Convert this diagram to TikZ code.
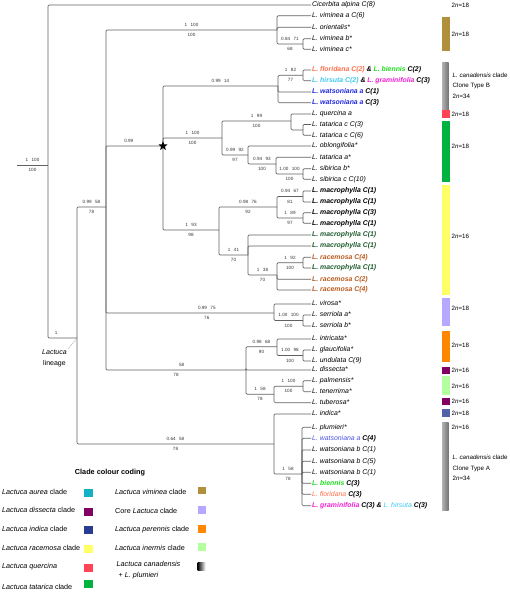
\documentclass[tikz,border=0pt]{standalone}
\usepackage{fontspec}
\setmainfont{Liberation Sans}
\usetikzlibrary{shapes.geometric}
\definecolor{vimcol}{RGB}{176,144,58}
\definecolor{quecol}{RGB}{255,68,85}
\definecolor{tatcol}{RGB}{0,178,64}
\definecolor{racecol}{RGB}{255,255,102}
\definecolor{corecol}{RGB}{180,168,255}
\definecolor{perecol}{RGB}{255,136,0}
\definecolor{disscol}{RGB}{128,0,100}
\definecolor{inercol}{RGB}{180,255,160}
\definecolor{indicol}{RGB}{40,60,145}
\definecolor{aurecol}{RGB}{20,176,196}
\definecolor{flocol}{RGB}{255,110,75}
\definecolor{biecol}{RGB}{30,220,30}
\definecolor{hircol}{RGB}{60,200,240}
\definecolor{gracol}{RGB}{240,30,210}
\definecolor{watcol}{RGB}{30,40,220}
\definecolor{macgreen}{RGB}{30,90,45}
\definecolor{raccol}{RGB}{185,90,30}
\def\fs{\fontsize{4.6}{5}\selectfont}
\def\pp#1#2{#1\hspace{3.5pt}#2}
\def\nn{2\textit{n}}

\begin{document}
\begin{tikzpicture}[x=1pt,y=-1pt,
	br/.style={draw=black!62, line width=0.7pt, rounded corners=1.2pt},
	lf/.style={anchor=west, inner sep=1pt, font=\fontsize{6.9}{8}\selectfont\itshape, text height=5pt, text depth=1.5pt},
	pa/.style={pos=.75, above=2.3pt, inner sep=1pt, font=\fs, text=black!80},
	pb/.style={pos=.75, below=2pt, inner sep=1pt, font=\fs, text=black!80},
	pl/.style={anchor=west, inner sep=0pt, font=\fontsize{6.2}{10.7}\selectfont, align=left},
	lg/.style={anchor=west, inner sep=0pt, font=\fontsize{7.2}{11}\selectfont, align=left}]
	\useasboundingbox (0,0) rectangle (510,592);
	
	% internal nodes
	\coordinate (root0) at (17,165);
	\coordinate (root) at (48,165);
	\coordinate (lact) at (77,338);
	\coordinate (big) at (106,207);
	\coordinate (vim) at (277,30);
	\coordinate (vimbc) at (303,44);
	\coordinate (star) at (163,146);
	\coordinate (canB) at (278,86);
	\coordinate (canB1) at (303,75.3);
	\coordinate (qt) at (222,138);
	\coordinate (que) at (291,121);
	\coordinate (tatc) at (303,129.9);
	\coordinate (tat) at (248,155);
	\coordinate (tatsib) at (276,164);
	\coordinate (sib) at (303,174);
	\coordinate (mac) at (219,230);
	\coordinate (macA) at (277,207);
	\coordinate (macA1) at (303,196.5);
	\coordinate (macA2) at (303,218);
	\coordinate (rac) at (248,255);
	\coordinate (racB) at (277,275);
	\coordinate (racC) at (303,262.7);
	\coordinate (corel) at (274,313);
	\coordinate (ser) at (303,320.5);
	\coordinate (per) at (246,370);
	\coordinate (int) at (277,346.7);
	\coordinate (glau) at (303,355.5);
	\coordinate (ine) at (274,394.3);
	\coordinate (pal) at (303,386.2);
	\coordinate (can) at (274,444);
	\coordinate (canA) at (302,474);
	
	% leaves
	\node[lf] (Lcic) at (311,5) {Cicerbita alpina C(8)};
	\node[lf] (Lvima) at (311,15.7) {L. viminea a C(6)};
	\node[lf] (Lori) at (311,27.3) {L. orientalis*};
	\node[lf] (Lvimb) at (311,38.7) {L. viminea b*};
	\node[lf] (Lvimc) at (311,49.3) {L. viminea c*};
	\node[lf] (Lflo2) at (311,70) {\bfseries\textcolor{flocol}{L. floridana C(2)} \& \textcolor{biecol}{L. biennis} C(2)};
	\node[lf] (Lhir2) at (311,80.7) {\bfseries\textcolor{hircol}{L. hirsuta C(2)} \& \textcolor{gracol}{L. graminifolia} C(3)};
	\node[lf] (Lwat1) at (311,92) {\bfseries\textcolor{watcol}{L. watsoniana a} C(1)};
	\node[lf] (Lwat3) at (311,102.7) {\bfseries\textcolor{watcol}{L. watsoniana a} C(3)};
	\node[lf] (Lque) at (311,114) {L. quercina a};
	\node[lf] (Ltatc3) at (311,124.5) {L. tatarica c C(3)};
	\node[lf] (Ltatc6) at (311,135.3) {L. tatarica c C(6)};
	\node[lf] (Lobl) at (311,146) {L. oblongifolia*};
	\node[lf] (Ltata) at (311,157.3) {L. tatarica a*};
	\node[lf] (Lsibb) at (311,168.7) {L. sibirica b*};
	\node[lf] (Lsibc) at (311,179.3) {L. sibirica c C(10)};
	\node[lf] (Lmac1) at (311,191) {\bfseries L. macrophylla C(1)};
	\node[lf] (Lmac2) at (311,202) {\bfseries L. macrophylla C(1)};
	\node[lf] (Lmac3) at (311,212.7) {\bfseries L. macrophylla C(3)};
	\node[lf] (Lmac4) at (311,223.3) {\bfseries L. macrophylla C(1)};
	\node[lf, text=macgreen] (Lmac5) at (311,235) {\bfseries L. macrophylla C(1)};
	\node[lf, text=macgreen] (Lmac6) at (311,246) {\bfseries L. macrophylla C(1)};
	\node[lf, text=raccol] (Lrac1) at (311,257.3) {\bfseries L. racemosa C(4)};
	\node[lf, text=macgreen] (Lmac7) at (311,268) {\bfseries L. macrophylla C(1)};
	\node[lf, text=raccol] (Lrac2) at (311,279.3) {\bfseries L. racemosa C(2)};
	\node[lf, text=raccol] (Lrac3) at (311,290) {\bfseries L. racemosa C(4)};
	\node[lf] (Lvir) at (311,304) {L. virosa*};
	\node[lf] (Lser1) at (311,315) {L. serriola a*};
	\node[lf] (Lser2) at (311,326) {L. serriola b*};
	\node[lf] (Lint) at (311,339) {L. intricata*};
	\node[lf] (Lgla) at (311,350) {L. glaucifolia*};
	\node[lf] (Lund) at (311,361) {L. undulata C(9)};
	\node[lf] (Ldis) at (311,370) {L. dissecta*};
	\node[lf] (Lpal) at (311,380.7) {L. palmensis*};
	\node[lf] (Lten) at (311,391.7) {L. tenerrima*};
	\node[lf] (Ltub) at (311,402.7) {L. tuberosa*};
	\node[lf] (Lind) at (311,414) {L. indica*};
	\node[lf] (Lplu) at (311,427.3) {L. plumieri*};
	\node[lf] (Lwat4) at (311,438.3) {\textcolor{watcol!80}{L. watsoniana a} \bfseries C(4)};
	\node[lf] (Lwatb1) at (311,450) {L. watsoniana b C(1)};
	\node[lf] (Lwatb5) at (311,461.3) {L. watsoniana b C(5)};
	\node[lf] (Lwatb1x) at (311,472.3) {L. watsoniana b C(1)};
	\node[lf] (Lbie3) at (311,483.3) {\bfseries\textcolor{biecol}{L. biennis} C(3)};
	\node[lf] (Lflo3) at (311,494.3) {\textcolor{flocol}{L. floridana} \bfseries C(3)};
	\node[lf] (Lgra3) at (311,505.7) {\bfseries\textcolor{gracol}{L. graminifolia} C(3) \& \textcolor{hircol}{\mdseries L. hirsuta} C(3)};
	
	% branches
	\draw[br] (root0) -- node[pa,pos=.5] {\pp{1}{100}} node[pb,pos=.5] {100} (root);
	\draw[br] (root) |- (Lcic.west);
	\draw[br] (root) |- node[pa,pos=.64] {1} (lact);
	\draw[br] (lact) |- node[pa] {\pp{0.99}{58}} node[pb] {78} (big);
	\draw[br] (lact) |- node[pa] {\pp{0.64}{58}} node[pb] {78} (can);
	\draw[br] (big) |- node[pa] {\pp{1}{100}} node[pb] {100} (vim);
	\draw[br] (big) |- node[pa,pos=.7] {0.99} (star);
	\draw[br] (big) |- node[pa,pos=.8] {\pp{0.99}{75}} node[pb,pos=.8] {76} (corel);
	\draw[br] (big) |- node[pa,pos=.77] {58} node[pb] {78} (per);
	\draw[br] (vim) |- node[pa] {\pp{0.84}{71}} node[pb] {68} (vimbc);
	\draw[br] (star) |- node[pa] {\pp{0.99}{14}} (canB);
	\draw[br] (star) |- node[pa] {\pp{1}{100}} node[pb] {100} (qt);
	\draw[br] (star) |- node[pa] {\pp{1}{93}} node[pb] {98} (mac);
	\draw[br] (canB) |- node[pa] {\pp{1}{82}} node[pb] {77} (canB1);
	\draw[br] (qt) |- node[pa] {\pp{1}{99}} node[pb] {100} (que);
	\draw[br] (que) |- (tatc);
	\draw[br] (qt) |- node[pa] {\pp{0.99}{92}} node[pb] {97} (tat);
	\draw[br] (tat) |- node[pa] {\pp{0.94}{93}} node[pb] {100} (tatsib);
	\draw[br] (tatsib) |- node[pa] {\pp{1.00}{100}} node[pb] {100} (sib);
	\draw[br] (mac) |- node[pa] {\pp{0.98}{76}} node[pb] {92} (macA);
	\draw[br] (macA) |- node[pa] {\pp{0.94}{67}} node[pb] {81} (macA1);
	\draw[br] (macA) |- node[pa] {\pp{1}{89}} node[pb] {97} (macA2);
	\draw[br] (mac) |- node[pa] {\pp{1}{41}} node[pb] {70} (rac);
	\draw[br] (rac) |- node[pa] {\pp{1}{38}} node[pb] {70} (racB);
	\draw[br] (racB) |- node[pa] {\pp{1}{92}} node[pb] {100} (racC);
	\draw[br] (corel) |- node[pa] {\pp{1.00}{100}} node[pb] {100} (ser);
	\draw[br] (per) |- node[pa] {\pp{0.98}{68}} node[pb] {90} (int);
	\draw[br] (int) |- node[pa] {\pp{1.00}{98}} node[pb] {100} (glau);
	\draw[br] (per) |- node[pa] {\pp{1}{58}} node[pb] {78} (ine);
	\draw[br] (ine) |- node[pa] {\pp{1}{100}} node[pb] {100} (pal);
	\draw[br] (can) |- node[pa] {\pp{1}{58}} node[pb] {78} (canA);
	\foreach \c/\l in {vim/Lvima, vim/Lori, vimbc/Lvimb, vimbc/Lvimc, canB1/Lflo2, canB1/Lhir2,
		canB/Lwat1, canB/Lwat3, que/Lque, tatc/Ltatc3, tatc/Ltatc6, tat/Lobl, tatsib/Ltata,
		sib/Lsibb, sib/Lsibc, macA1/Lmac1, macA1/Lmac2, macA2/Lmac3, macA2/Lmac4, rac/Lmac5,
		rac/Lmac6, racC/Lrac1, racC/Lmac7, racB/Lrac2, racB/Lrac3, corel/Lvir, ser/Lser1,
		ser/Lser2, int/Lint, glau/Lgla, glau/Lund, per/Ldis, pal/Lpal, pal/Lten, ine/Ltub,
		can/Lind}
		\draw[br] (\c) |- (\l.west);
	\foreach \l in {Lplu, Lwat4, Lwatb1, Lwatb5, Lwatb1x, Lbie3, Lflo3, Lgra3}
		\draw[br] (canA) |- (\l.west);
	
	\node[star, star points=5, star point ratio=2.3, fill=black, inner sep=0pt, minimum size=9.5pt] (starmk) at (star) {};
	\node[font=\fontsize{7}{10.4}\selectfont, align=center, inner sep=1pt] (linlab) at (54.5,358.5) {\textit{Lactuca}\\lineage};
	\draw[black!35, line width=0.3pt, shorten >=2pt] (linlab.north east) -- (lact);
	
	% colour bars
	\fill[vimcol] (441.5,17.3) rectangle (449.5,51);
	\shade[left color=black!30, middle color=black, right color=black!55] (442,62.3) rectangle (448.5,110);
	\fill[quecol] (441.5,110.3) rectangle (449.5,117.5);
	\fill[tatcol] (441.5,120.7) rectangle (449.5,181.7);
	\fill[racecol] (441.5,185) rectangle (449.5,295);
	\fill[corecol] (441.5,298.3) rectangle (449.5,326);
	\fill[perecol] (441.5,331) rectangle (449.5,361.7);
	\fill[disscol] (441.5,366.7) rectangle (449.5,374);
	\fill[inercol] (441.5,376.3) rectangle (449.5,395);
	\fill[disscol] (441.5,397.5) rectangle (449.5,405);
	\fill[indicol!80!white] (441.5,409) rectangle (449.5,416.7);
	\shade[left color=black!30, middle color=black, right color=black!55] (442,422.3) rectangle (448.5,510.7);
	
	\node[pl] (pl1) at (451.5,5) {\nn=18};
	\node[pl] (pl2) at (451.5,34.3) {\nn=18};
	\node[pl] (pl3) at (452.5,85.5) {\textit{L. canadensis} clade\\Clone Type B\\\nn=34};
	\node[pl] (pl4) at (451.5,114) {\nn=18};
	\node[pl] (pl5) at (451.5,146) {\nn=18};
	\node[pl] (pl6) at (451.5,236.7) {\nn=16};
	\node[pl] (pl7) at (451.5,308.3) {\nn=18};
	\node[pl] (pl8) at (451.5,345) {\nn=18};
	\node[pl] (pl9) at (451.5,370) {\nn=16};
	\node[pl] (pl10) at (451.5,386) {\nn=16};
	\node[pl] (pl11) at (451.5,401) {\nn=16};
	\node[pl] (pl12) at (451.5,413) {\nn=18};
	\node[pl] (pl13) at (451.5,427) {\nn=16};
	\node[pl] (pl14) at (452.5,468) {\textit{L. canadensis} clade\\Clone Type A\\\nn=34};
	
	% legend
	\node[font=\bfseries\fontsize{7.3}{9}\selectfont] (legtitle) at (110,472.3) {Clade colour coding};
	\node[lg] (lg1) at (2,491.7) {\textit{Lactuca aurea} clade};
	\node[lg] (lg2) at (2,510.3) {\textit{Lactuca dissecta} clade};
	\node[lg] (lg3) at (2,529) {\textit{Lactuca indica} clade};
	\node[lg] (lg4) at (2,547.5) {\textit{Lactuca racemosa} clade};
	\node[lg] (lg5) at (2,566.7) {\textit{Lactuca quercina}};
	\node[lg] (lg6) at (2,586.5) {\textit{Lactuca tatarica} clade};
	\node[lg] (lg7) at (115,491.7) {\textit{Lactuca viminea} clade};
	\node[lg] (lg8) at (115,511) {Core \textit{Lactuca} clade};
	\node[lg] (lg9) at (115,529.7) {\textit{Lactuca perennis} clade};
	\node[lg] (lg10) at (115,547.7) {\textit{Lactuca inermis} clade};
	\node[lg] (lg11) at (116.5,570.5) {\textit{Lactuca canadensis}\\\hspace{2pt}+ \textit{L. plumieri}};
	\fill[aurecol] (83.5,489) rectangle (92.5,497);
	\fill[disscol] (83.5,507.5) rectangle (92.5,515.5);
	\fill[indicol] (83.5,526) rectangle (92.5,534);
	\fill[racecol] (83.5,545) rectangle (92.5,553);
	\fill[quecol] (83.5,564) rectangle (92.5,572);
	\fill[tatcol] (83.5,580) rectangle (92.5,588);
	\fill[vimcol] (197.5,486.7) rectangle (205.5,494.3);
	\fill[corecol] (197.5,506) rectangle (205.5,514);
	\fill[perecol] (197.5,525) rectangle (205.5,533);
	\fill[inercol] (197.5,543) rectangle (205.5,551);
	\shade[left color=black, right color=white] (197.5,562.7) rectangle (205.5,570.7);
\end{tikzpicture}
\end{document}
